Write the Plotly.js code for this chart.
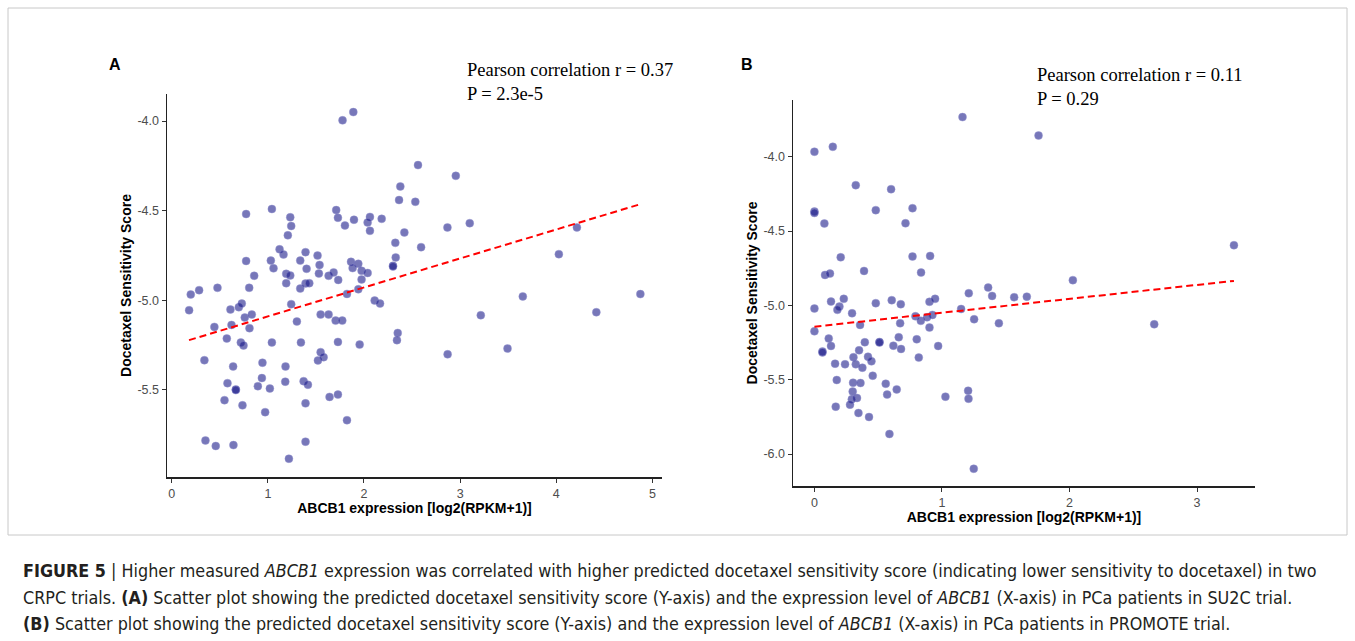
<!DOCTYPE html>
<html>
<head>
<meta charset="utf-8">
<script src="https://cdn.plot.ly/plotly-3.0.1.min.js"></script>
<style>html,body{margin:0;padding:0;background:#fff;}#chart{width:1355px;height:641px;}</style>
</head>
<body>
<div id="chart"></div>
<script>
// ---------- Panel A (SU2C) ----------
const aX = [0.774,1.042,1.233,1.243,1.208,1.122,1.163,0.774,1.031,1.059,0.858,0.806,1.191,1.233,1.191,1.337,1.392,1.517,1.538,1.403,1.531,1.632,1.337,1.392,1.431,
  0.198,0.285,0.476,0.181,0.611,0.698,0.729,0.760,0.833,0.809,0.444,0.622,0.573,1.243,1.302,1.549,1.632,0.719,0.747,1.042,1.344,
  0.340,0.639,0.944,1.184,1.549,1.521,1.580,0.580,0.667,0.667,0.938,0.896,1.021,1.181,1.372,1.417,0.549,0.736,0.972,1.392,1.642,
  0.351,0.458,0.642,1.392,1.219,
  1.777,1.889,2.562,2.955,2.378,2.365,2.534,1.711,1.729,1.896,2.062,2.038,2.184,1.802,2.062,2.868,3.100,2.420,2.326,2.594,2.330,2.302,2.302,
  1.865,1.941,1.882,1.975,2.038,1.684,1.732,1.975,1.823,1.941,2.111,2.167,3.215,1.705,1.774,1.729,1.955,2.351,2.343,2.870,
  3.652,4.417,4.875,3.493,4.027,4.215,1.823,1.729];
const aY = [-4.519,-4.491,-4.537,-4.586,-4.638,-4.716,-4.745,-4.781,-4.779,-4.822,-4.864,-4.931,-4.853,-4.862,-4.905,-4.779,-4.732,-4.751,-4.803,-4.825,-4.851,-4.864,-4.935,-4.907,-4.905,
  -4.968,-4.944,-4.931,-5.056,-5.052,-5.039,-5.019,-5.097,-5.080,-5.156,-5.149,-5.138,-5.214,-5.022,-5.119,-5.080,-5.080,-5.236,-5.253,-5.236,-5.236,
  -5.335,-5.370,-5.349,-5.370,-5.290,-5.336,-5.318,-5.463,-5.498,-5.502,-5.435,-5.480,-5.493,-5.455,-5.452,-5.472,-5.558,-5.587,-5.625,-5.576,-5.540,
  -5.783,-5.814,-5.809,-5.790,-5.885,
  -3.996,-3.950,-4.246,-4.306,-4.365,-4.441,-4.451,-4.497,-4.540,-4.551,-4.535,-4.566,-4.546,-4.583,-4.613,-4.594,-4.570,-4.622,-4.680,-4.704,-4.761,-4.808,-4.812,
  -4.786,-4.797,-4.821,-4.836,-4.848,-4.845,-4.887,-4.884,-4.965,-4.939,-5.002,-5.019,-5.084,-5.114,-5.114,-5.233,-5.248,-5.183,-5.223,-5.302,
  -4.979,-5.067,-4.966,-5.270,-4.743,-4.594,-5.670,-5.527];
const aFitX = [0.18, 4.875];
const aFitY = [-5.223, -4.464];
const aXTicks = [0,1,2,3,4,5];
const aXTickText = ['0','1','2','3','4','5'];
const aYTicks = [-5.5,-5.0,-4.5,-4.0];
const aYTickText = ['-5.5','-5.0','-4.5','-4.0'];

// ---------- Panel B (PROMOTE) ----------
const bX = [0,0.144,0.324,0.601,0,0,0.078,0.481,0.769,0.714,0.206,0.769,0.907,0.083,0.122,0.389,0.836,0.130,0.230,0.196,0.180,0,0.295,0.481,0.606,0.677,0.902,0.946,1.150,
  0.792,0.834,0.883,0.925,0.902,0.672,0.358,0,0.112,0.130,0.063,0.063,0.395,0.510,0.510,0.350,0.306,0.420,0.447,0.324,0.376,0.162,0.240,0.619,0.661,0.679,0.802,0.818,0.970,
  0.457,0.175,0.303,0.361,0.559,0.645,0.570,0.300,0.334,0.293,0.279,0.167,0.345,0.428,0.588,1.027,
  1.210,1.252,1.362,1.393,1.446,1.566,1.665,1.205,1.208,1.249,1.757,2.026,2.664,3.289,1.161];
const bY = [-3.966,-3.933,-4.191,-4.218,-4.368,-4.378,-4.449,-4.359,-4.346,-4.447,-4.676,-4.671,-4.667,-4.795,-4.786,-4.768,-4.779,-4.974,-4.956,-5.008,-5.030,-5.021,-5.053,-4.985,-4.965,-4.992,-4.976,-4.956,-5.024,
  -5.073,-5.104,-5.080,-5.064,-5.149,-5.120,-5.131,-5.174,-5.223,-5.273,-5.310,-5.316,-5.248,-5.246,-5.250,-5.302,-5.349,-5.345,-5.376,-5.396,-5.419,-5.392,-5.396,-5.271,-5.214,-5.293,-5.228,-5.351,-5.273,
  -5.473,-5.502,-5.520,-5.522,-5.527,-5.565,-5.600,-5.580,-5.623,-5.632,-5.668,-5.681,-5.724,-5.751,-5.865,-5.614,
  -4.918,-5.093,-4.880,-4.936,-5.120,-4.945,-4.941,-5.574,-5.628,-6.099,-3.857,-4.830,-5.127,-4.595,-3.733];
const bFitX = [0, 3.289];
const bFitY = [-5.143, -4.835];
const bXTicks = [0,1,2,3];
const bXTickText = ['0','1','2','3'];
const bYTicks = [-6.0,-5.5,-5.0,-4.5,-4.0];
const bYTickText = ['-6.0','-5.5','-5.0','-4.5','-4.0'];

// ---------- Texts ----------
const panelLabels = ['A','B'];
const statsA = ['Pearson correlation r = 0.37', 'P = 2.3e-5'];
const statsB = ['Pearson correlation r = 0.11', 'P = 0.29'];
const xTitle = 'ABCB1 expression [log2(RPKM+1)]';
const yTitle = 'Docetaxel Sensitivity Score';
const captionLines = [
  '<b>FIGURE 5</b> | Higher measured <i>ABCB1</i> expression was correlated with higher predicted docetaxel sensitivity score (indicating lower sensitivity to docetaxel) in two',
  'CRPC trials. <b>(A)</b> Scatter plot showing the predicted docetaxel sensitivity score (Y-axis) and the expression level of <i>ABCB1</i> (X-axis) in PCa patients in SU2C trial.',
  '<b>(B)</b> Scatter plot showing the predicted docetaxel sensitivity score (Y-axis) and the expression level of <i>ABCB1</i> (X-axis) in PCa patients in PROMOTE trial.'
];

// ---------- Build ----------
const W = 1355, H = 641;
const px = v => v / W;
const py = v => 1 - v / H;

const markerStyle = {size: 8, color: 'rgba(20,20,135,0.58)', line: {width: 0.6, color: 'rgba(150,150,210,0.7)'}};
const fitStyle = {color: '#ff0000', width: 2, dash: '7px,4px'};

const traces = [
  {x: aX, y: aY, type: 'scatter', mode: 'markers', marker: markerStyle, xaxis: 'x', yaxis: 'y', hoverinfo: 'x+y'},
  {x: aFitX, y: aFitY, type: 'scatter', mode: 'lines', line: fitStyle, xaxis: 'x', yaxis: 'y', hoverinfo: 'skip'},
  {x: bX, y: bY, type: 'scatter', mode: 'markers', marker: markerStyle, xaxis: 'x2', yaxis: 'y2', hoverinfo: 'x+y'},
  {x: bFitX, y: bFitY, type: 'scatter', mode: 'lines', line: fitStyle, xaxis: 'x2', yaxis: 'y2', hoverinfo: 'skip'}
];

const tickFont = {family: 'Liberation Sans, Arial, sans-serif', size: 12.5, color: '#4d4d4d'};
const titleFont = {family: 'Liberation Sans, Arial, sans-serif', size: 14, color: '#000'};
function axisBase(extra) {
  return Object.assign({
    showgrid: false, zeroline: false, showline: true, linecolor: '#222', linewidth: 1.5,
    ticks: 'outside', ticklen: 4, tickwidth: 1, tickcolor: '#333', tickfont: tickFont,
    automargin: false, fixedrange: true
  }, extra);
}

const serif = {family: 'Liberation Serif, DejaVu Serif, serif', size: 18.5, color: '#000'};
const capFont = {family: 'Liberation Sans Narrow, DejaVu Sans Condensed, Arial Narrow, sans-serif', size: 17.8, color: '#231f20'};
const labFont = {family: 'Liberation Sans, Arial', size: 16, color: '#000'};

function note(text, x, y, font, xanchor) {
  return {text: text, x: px(x), y: py(y), xref: 'paper', yref: 'paper', xanchor: xanchor || 'center', yanchor: 'middle', showarrow: false, font: font};
}
const annotations = [
  note('<b>' + panelLabels[0] + '</b>', 115, 65, labFont),
  note('<b>' + panelLabels[1] + '</b>', 747, 65, labFont),
  note(statsA[0], 465, 70, serif, 'left'),
  note(statsA[1], 465, 94, serif, 'left'),
  note(statsB[0], 1035, 75, serif, 'left'),
  note(statsB[1], 1035, 99, serif, 'left')
];
const capY = [570, 597, 623];
captionLines.forEach((t, i) => annotations.push(note(t, 21, capY[i], capFont, 'left')));

const layout = {
  width: W, height: H, margin: {l: 0, r: 0, t: 0, b: 0},
  paper_bgcolor: '#fff', plot_bgcolor: '#fff', showlegend: false,
  xaxis: axisBase({domain: [px(167), px(662)], range: [-0.049, 5.10], tickvals: aXTicks, ticktext: aXTickText,
    title: {text: '<b>' + xTitle + '</b>', font: titleFont, standoff: 2}, anchor: 'y'}),
  yaxis: axisBase({domain: [py(477), py(94)], range: [-5.987, -3.849], tickvals: aYTicks, ticktext: aYTickText,
    title: {text: '<b>' + yTitle + '</b>', font: titleFont, standoff: 2}, anchor: 'x'}),
  xaxis2: axisBase({domain: [px(793), px(1255)], range: [-0.168, 3.454], tickvals: bXTicks, ticktext: bXTickText,
    title: {text: '<b>' + xTitle + '</b>', font: titleFont, standoff: 2}, anchor: 'y2'}),
  yaxis2: axisBase({domain: [py(486), py(100)], range: [-6.215, -3.618], tickvals: bYTicks, ticktext: bYTickText,
    title: {text: '<b>' + yTitle + '</b>', font: titleFont, standoff: 2}, anchor: 'x2'}),
  annotations: annotations,
  shapes: [
    {type: 'rect', xref: 'paper', yref: 'paper', x0: px(8), x1: px(1347), y0: py(535), y1: py(8), line: {color: '#c8c8c8', width: 1}}
  ]
};

Plotly.newPlot('chart', traces, layout, {displayModeBar: false, staticPlot: true});
</script>
</body>
</html>
